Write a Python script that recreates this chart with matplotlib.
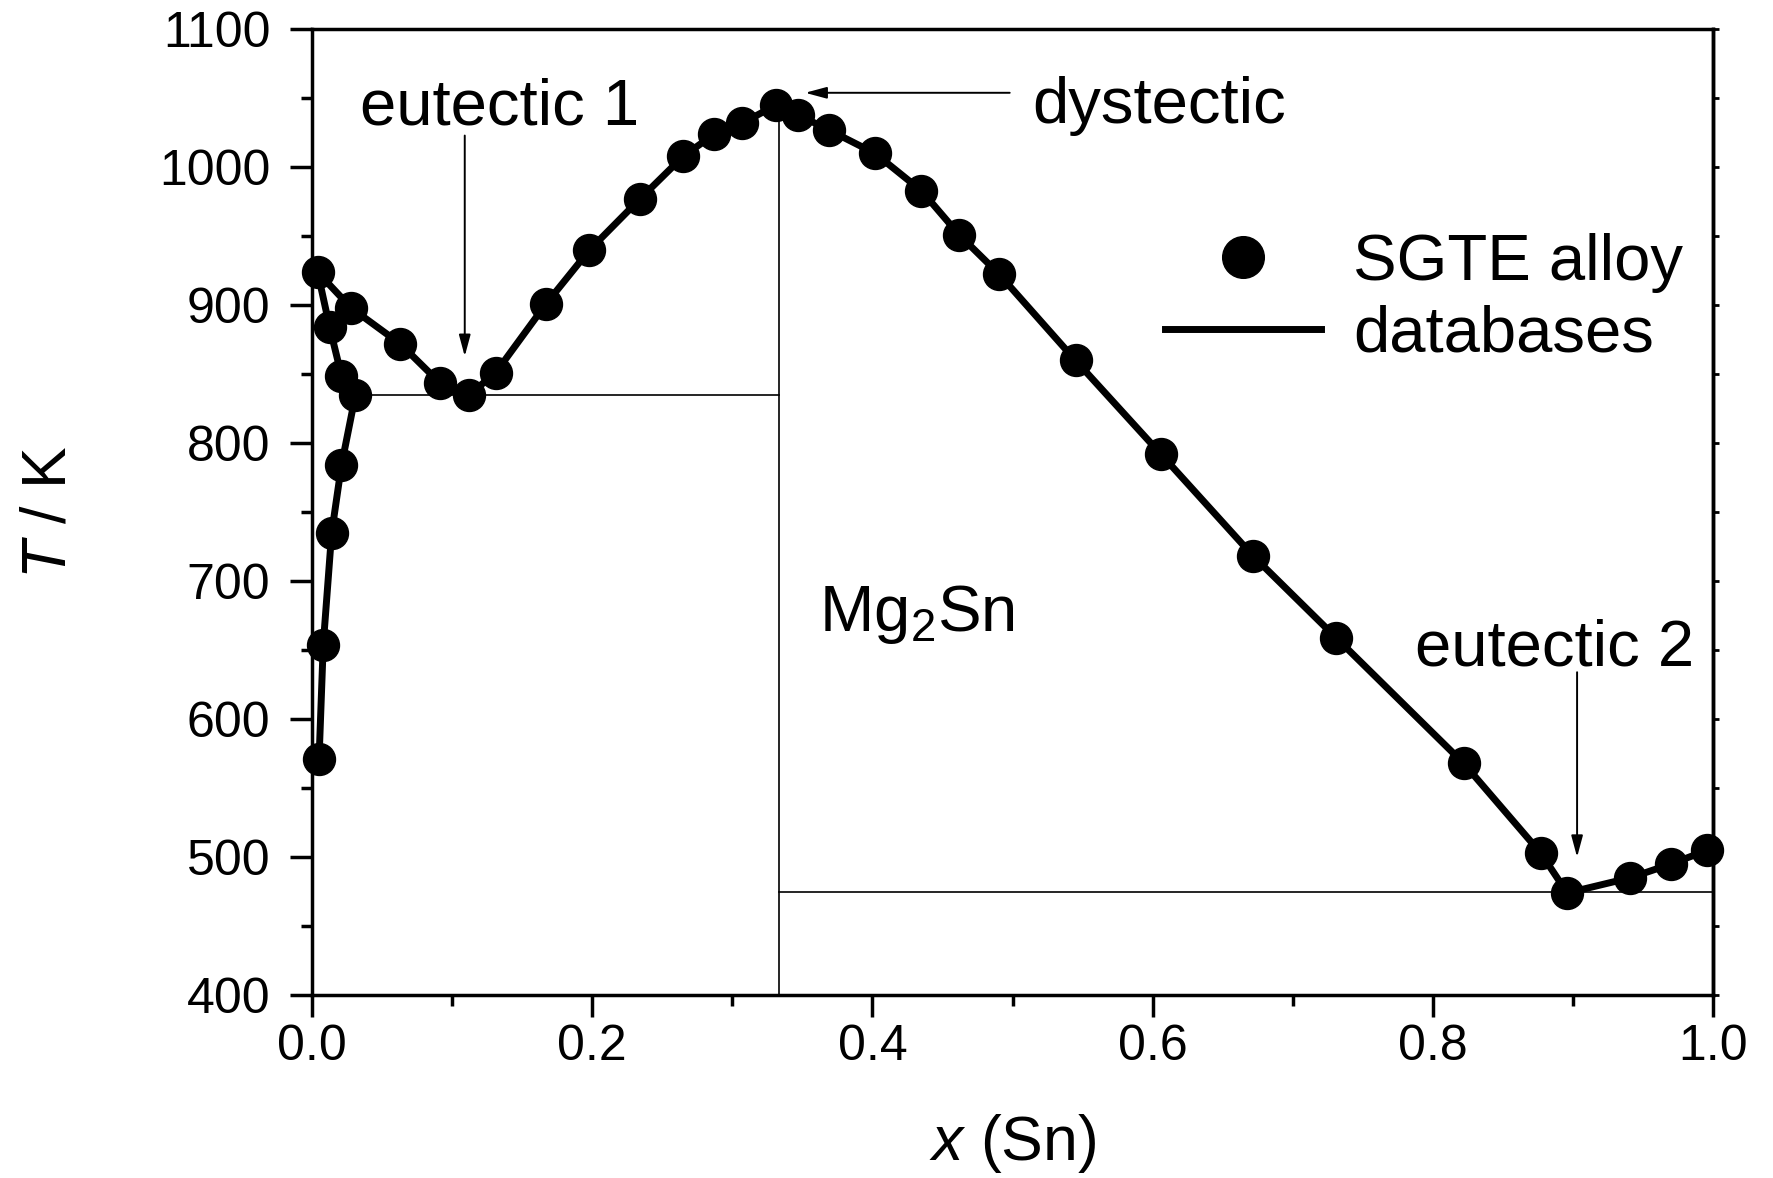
import numpy as np
import matplotlib
matplotlib.use('Agg')
import matplotlib.pyplot as plt
from matplotlib.lines import Line2D

plt.rcParams['font.family'] = ['Liberation Sans', 'DejaVu Sans']
plt.rcParams['mathtext.fontset'] = 'custom'
plt.rcParams['mathtext.rm'] = 'Liberation Sans'
plt.rcParams['mathtext.it'] = 'Liberation Sans:italic'

# SGTE alloy database points, Mg-Sn phase diagram
# solvus/solidus on the Mg side, then the liquidus from Mg to Sn
x_sn = [0.005, 0.008, 0.014, 0.021, 0.031, 0.021, 0.0126, 0.004,
        0.028, 0.063, 0.091, 0.112, 0.131, 0.167, 0.198, 0.234, 0.265,
        0.287, 0.307, 0.331, 0.347, 0.369, 0.402, 0.435, 0.462, 0.490,
        0.545, 0.606, 0.672, 0.731, 0.822, 0.877, 0.896, 0.941, 0.970, 0.996]
temp_k = [571, 654, 735, 784, 835, 849, 884, 924,
          898, 872, 844, 835, 851, 901, 940, 977, 1008,
          1024, 1032, 1045, 1038, 1027, 1010, 983, 951, 923,
          860, 792, 718, 659, 568, 503, 474, 485, 495, 505]

# invariant lines
eut1_T = 835
eut1_x = [0.031, 1 / 3]
eut2_T = 475
eut2_x = [1 / 3, 1.0]
mg2sn_x = 1 / 3
mg2sn_top = 1045

x_ticks = [0.0, 0.2, 0.4, 0.6, 0.8, 1.0]
y_ticks = [400, 500, 600, 700, 800, 900, 1000, 1100]

fig = plt.figure(figsize=(17.74, 11.78), dpi=100)
ax = fig.add_axes([0.1759, 0.1553, 0.7897, 0.8198])

ax.plot(eut1_x, [eut1_T, eut1_T], color='k', lw=1.2, zorder=1)
ax.plot(eut2_x, [eut2_T, eut2_T], color='k', lw=1.2, zorder=1)
ax.plot([mg2sn_x, mg2sn_x], [400, mg2sn_top], color='k', lw=1.2, zorder=1)

ax.plot(x_sn, temp_k, color='k', lw=5, marker='o', ms=23, zorder=3, clip_on=False)

arrow = dict(arrowstyle='-|>,head_length=1.3,head_width=0.35', color='k', lw=1.4,
             mutation_scale=10, shrinkA=0, shrinkB=0)
ax.annotate('', xy=(0.109, 863), xytext=(0.109, 1023), arrowprops=arrow)
ax.annotate('', xy=(0.903, 500), xytext=(0.903, 634), arrowprops=arrow)
ax.annotate('', xy=(0.352, 1054), xytext=(0.498, 1054), arrowprops=arrow)

fs = 47
ax.text(0.134, 1031, 'eutectic 1', fontsize=fs, ha='center', va='baseline')
ax.text(0.514, 1032, 'dystectic', fontsize=fs, ha='left', va='baseline')
ax.text(0.887, 639, 'eutectic 2', fontsize=fs, ha='center', va='baseline')
ax.text(0.362, 664, 'Mg$_2$Sn', fontsize=fs, ha='left', va='baseline')

handles = [Line2D([], [], color='k', marker='o', ms=30, ls='none'),
           Line2D([], [], color='k', lw=5)]
ax.legend(handles, ['SGTE alloy', 'databases'], loc='upper left',
          bbox_to_anchor=(0.609, 0.789), frameon=False, fontsize=fs,
          borderpad=0, borderaxespad=0, handlelength=2.38, handletextpad=0.5,
          labelspacing=0.18)

ax.set_xlim(0, 1)
ax.set_ylim(400, 1100)
ax.set_xticks(x_ticks)
ax.set_xticks(np.arange(0, 1.01, 0.1), minor=True)
ax.set_yticks(y_ticks)
ax.set_yticks(np.arange(400, 1101, 50), minor=True)
ax.set_xticklabels([f'{v:.1f}' for v in x_ticks])

for s in ax.spines.values():
    s.set_linewidth(2.5)
ax.tick_params(which='major', direction='out', length=16, width=2.5, labelsize=36)
ax.tick_params(which='minor', direction='out', length=8, width=2.5)
ax.tick_params(axis='x', pad=5)
ax.tick_params(axis='y', pad=14)

sec = ax.secondary_yaxis('right')
sec.set_yticks(np.arange(400, 1101, 50))
sec.set_yticklabels([])
sec.tick_params(direction='out', length=4, width=2)
sec.spines['right'].set_linewidth(2.5)

ax.set_xlabel('$x$ (Sn)', fontsize=45, labelpad=30)
ax.set_ylabel('$T$ / K', fontsize=45, labelpad=58)

fig.savefig('out.png', dpi=100)
